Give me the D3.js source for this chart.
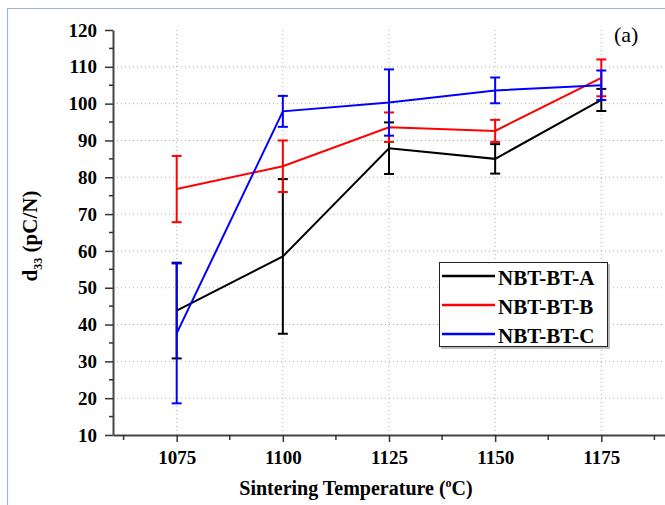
<!DOCTYPE html>
<html lang="en">
<head>
    <meta charset="UTF-8">
    <title>d33 vs Sintering Temperature</title>
    <script src="https://d3js.org/d3.v7.min.js"></script>
    <style>
        body {
            margin: 0;
            background: #fff;
        }
    </style>
</head>
<body>
<div id="chart"></div>
<script>
    // sintering temperatures (x)
    var temps = [1075, 1100, 1125, 1150, 1175];

    // d33 values and error bars for each composition
    var seriesNames = ['NBT-BT-A', 'NBT-BT-B', 'NBT-BT-C'];
    var valuesA = [43.8, 58.5, 87.9, 85.0, 101.0];
    var errA    = [13, 21, 7, 4, 3];
    var valuesB = [76.8, 83.0, 93.6, 92.6, 107.0];
    var errB    = [9, 7, 4, 3, 5];
    var valuesC = [37.6, 97.9, 100.3, 103.6, 105.0];
    var errC    = [19, 4.2, 9, 3.5, 4];

    var xTicks = [1075, 1100, 1125, 1150, 1175];
    var yTicks = [10, 20, 30, 40, 50, 60, 70, 80, 90, 100, 110, 120];

    var w = 665, h = 505;
    var m = {top: 30, left: 113, bottom: 70, right: 0};
    var colors = ['#000000', '#ff0000', '#0000ff'];
    var serif = 'Liberation Serif';

    var series = [
        {name: seriesNames[0], vals: valuesA, err: errA, color: colors[0]},
        {name: seriesNames[1], vals: valuesB, err: errB, color: colors[1]},
        {name: seriesNames[2], vals: valuesC, err: errC, color: colors[2]}
    ];

    var svg = d3.select('#chart')
                .append('svg')
                .attr('width', w)
                .attr('height', h)
                .style('font-family', serif);

    // faint outer frame (left + top)
    svg.append('path')
       .attr('d', 'M7.5,' + h + ' L7.5,8.5 L' + w + ',8.5')
       .attr('fill', 'none')
       .attr('stroke', '#9db5d8')
       .attr('stroke-width', 1.2);

    var xScale = d3.scaleLinear()
                   .domain([1060, 1190])
                   .range([m.left, w - m.right]);
    var yScale = d3.scaleLinear()
                   .domain([10, 120])
                   .range([h - m.bottom, m.top]);

    // dotted grid
    var grid = svg.append('g').attr('class', 'grid');
    grid.selectAll('line.h')
        .data(yTicks.filter(function(d){ return d > 10 && d < 120; }))
        .enter().append('line')
        .attr('x1', m.left).attr('x2', w)
        .attr('y1', function(d){ return yScale(d); })
        .attr('y2', function(d){ return yScale(d); })
        .attr('stroke', '#b0b0b0')
        .attr('stroke-width', 1)
        .attr('stroke-dasharray', '1,3');
    grid.selectAll('line.v')
        .data(xTicks)
        .enter().append('line')
        .attr('y1', m.top).attr('y2', h - m.bottom)
        .attr('x1', function(d){ return xScale(d); })
        .attr('x2', function(d){ return xScale(d); })
        .attr('stroke', '#b0b0b0')
        .attr('stroke-width', 1)
        .attr('stroke-dasharray', '1,3');

    // minor ticks
    var xMinor = d3.range(1062.5, 1190, 25);
    var yMinor = d3.range(15, 120, 10);

    var xAxis = d3.axisBottom(xScale).tickValues(xTicks).tickFormat(d3.format('d'))
                  .tickSize(7).tickPadding(9).tickSizeOuter(0);
    var yAxis = d3.axisLeft(yScale).tickValues(yTicks).tickFormat(d3.format('d'))
                  .tickSize(8).tickPadding(8).tickSizeOuter(0);

    var gx = svg.append('g')
        .attr('id', 'x-axis')
        .attr('transform', 'translate(0,' + (h - m.bottom) + ')')
        .call(xAxis);
    xMinor.forEach(function(d){
        gx.append('line')
          .attr('x1', xScale(d)).attr('x2', xScale(d))
          .attr('y1', 0).attr('y2', 5)
          .attr('stroke', '#333').attr('stroke-width', 1.5);
    });

    var gy = svg.append('g')
        .attr('id', 'y-axis')
        .attr('transform', 'translate(' + m.left + ',0)')
        .call(yAxis);
    yMinor.forEach(function(d){
        gy.append('line')
          .attr('x1', -4).attr('x2', 0)
          .attr('y1', yScale(d)).attr('y2', yScale(d))
          .attr('stroke', '#333').attr('stroke-width', 1.5);
    });

    [gx, gy].forEach(function(g){
        g.attr('font-family', serif).attr('font-size', null);
        g.select('.domain').attr('stroke', '#444').attr('stroke-width', 2);
        g.selectAll('.tick line').attr('stroke', '#333').attr('stroke-width', 1.5);
        g.selectAll('.tick text')
         .attr('fill', '#000')
         .style('font-family', serif)
         .style('font-size', '19px')
         .style('font-weight', 'bold');
    });

    // series lines + error bars
    var line = d3.line()
                 .x(function(d){ return xScale(d.t); })
                 .y(function(d){ return yScale(d.v); });
    var capW = 5;

    series.forEach(function(s){
        var pts = temps.map(function(t, i){ return {t: t, v: s.vals[i], e: s.err[i]}; });
        var g = svg.append('g').attr('class', 'series');

        g.append('path')
         .datum(pts)
         .attr('d', line)
         .attr('fill', 'none')
         .attr('stroke', s.color)
         .attr('stroke-width', 2);

        var eb = g.selectAll('g.err').data(pts).enter().append('g');
        eb.append('line')
          .attr('x1', function(d){ return xScale(d.t); })
          .attr('x2', function(d){ return xScale(d.t); })
          .attr('y1', function(d){ return yScale(d.v + d.e); })
          .attr('y2', function(d){ return yScale(d.v - d.e); })
          .attr('stroke', s.color).attr('stroke-width', 2);
        [1, -1].forEach(function(sign){
            eb.append('line')
              .attr('x1', function(d){ return xScale(d.t) - capW; })
              .attr('x2', function(d){ return xScale(d.t) + capW; })
              .attr('y1', function(d){ return yScale(d.v + sign * d.e); })
              .attr('y2', function(d){ return yScale(d.v + sign * d.e); })
              .attr('stroke', s.color).attr('stroke-width', 2);
        });
    });

    // legend
    var legend = svg.append('g').attr('id', 'legend');
    legend.append('rect')
          .attr('x', 441).attr('y', 264)
          .attr('width', 169).attr('height', 85)
          .attr('fill', '#bbb');
    legend.append('rect')
          .attr('x', 439.5).attr('y', 262.5)
          .attr('width', 168).attr('height', 84)
          .attr('fill', '#fff')
          .attr('stroke', '#222').attr('stroke-width', 1);
    var rowY = [276, 305, 334];
    series.forEach(function(s, i){
        legend.append('line')
              .attr('x1', 442).attr('x2', 495)
              .attr('y1', rowY[i]).attr('y2', rowY[i])
              .attr('stroke', s.color).attr('stroke-width', 2.5);
        legend.append('text')
              .attr('x', 498).attr('y', rowY[i] + 9)
              .text(s.name)
              .style('font-family', serif)
              .style('font-size', '21px')
              .style('font-weight', 'bold');
    });

    // axis titles
    var xt = svg.append('text')
                .attr('x', 356).attr('y', 495)
                .attr('text-anchor', 'middle')
                .style('font-family', serif)
                .style('font-size', '20px')
                .style('font-weight', 'bold');
    xt.append('tspan').text('Sintering Temperature (');
    xt.append('tspan').attr('dy', -8).style('font-size', '12px').text('o');
    xt.append('tspan').attr('dy', 8).text('C)');

    var yt = svg.append('text')
                .attr('transform', 'translate(37,236) rotate(-90)')
                .attr('text-anchor', 'middle')
                .style('font-family', serif)
                .style('font-size', '21px')
                .style('font-weight', 'bold');
    yt.append('tspan').text('d');
    yt.append('tspan').attr('dy', 5).style('font-size', '12px').text('33');
    yt.append('tspan').attr('dy', -5).text(' (pC/N)');

    // panel label
    svg.append('text')
       .attr('x', 614).attr('y', 42)
       .text('(a)')
       .style('font-family', serif)
       .style('font-size', '22px');
</script>
</body>
</html>
